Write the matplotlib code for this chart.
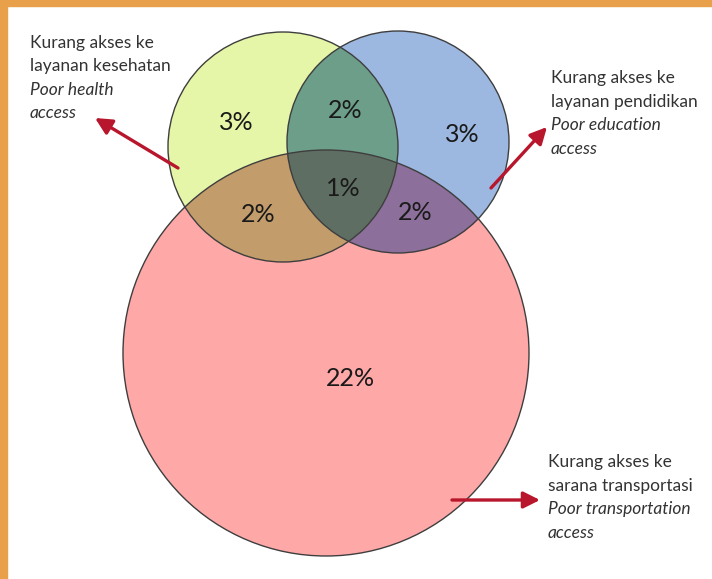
import numpy as np
import matplotlib
matplotlib.use("Agg")
import matplotlib.pyplot as plt
from matplotlib.patches import Circle, Polygon, Rectangle

# ---- data ----
sets = ["health", "education", "transport"]
region_labels = ["3%", "3%", "22%", "2%", "2%", "2%", "1%"]   # H, E, T, H&E, H&T, E&T, H&E&T
label_id = [["Kurang akses ke", "layanan kesehatan"],
            ["Kurang akses ke", "layanan pendidikan"],
            ["Kurang akses ke", "sarana transportasi"]]
label_en = [["Poor health", "access"],
            ["Poor education", "access"],
            ["Poor transportation", "access"]]

W, H = 712, 579
fig = plt.figure(figsize=(W / 100, H / 100), dpi=100)
ax = fig.add_axes([0, 0, 1, 1])
ax.set_xlim(0, W)
ax.set_ylim(H, 0)
ax.set_aspect("equal")
ax.axis("off")

# border
orange = "#e8a04a"
ax.add_patch(Rectangle((0, 0), 7, H, color=orange, zorder=0))
ax.add_patch(Rectangle((0, 0), W, 6, color=orange, zorder=0))

# circle geometry (pixel space)
cH = (283, 147, 115)
cE = (398, 142, 111)
cT = (326, 353, 203)

col = {"H": "#e6f6a8", "E": "#9cb8e0", "T": "#ffa8a8",
       "HE": "#6c9e8a", "HT": "#c39c6c", "ET": "#8c6f9a", "HET": "#5f6e62"}
edge = "#3e3e3e"


def circ(c, fc, z, **kw):
    return Circle((c[0], c[1]), c[2], facecolor=fc, edgecolor="none", zorder=z, **kw)


def poly_pts(c, n=400):
    t = np.linspace(0, 2 * np.pi, n, endpoint=False)
    return np.column_stack([c[0] + c[2] * np.cos(t), c[1] + c[2] * np.sin(t)])


def _inter(p1, p2, a, b):
    x1, y1 = p1; x2, y2 = p2; x3, y3 = a; x4, y4 = b
    d = (x1 - x2) * (y3 - y4) - (y1 - y2) * (x3 - x4)
    t = ((x1 - x3) * (y3 - y4) - (y1 - y3) * (x3 - x4)) / d
    return (x1 + t * (x2 - x1), y1 + t * (y2 - y1))


def clip_convex(subject, clipper):
    def inside(p, a, b, s):
        return s * ((b[0] - a[0]) * (p[1] - a[1]) - (b[1] - a[1]) * (p[0] - a[0])) >= 0
    area = 0.5 * np.sum(clipper[:, 0] * np.roll(clipper[:, 1], -1) - np.roll(clipper[:, 0], -1) * clipper[:, 1])
    s = 1 if area > 0 else -1
    out = list(subject)
    for i in range(len(clipper)):
        a, b = clipper[i], clipper[(i + 1) % len(clipper)]
        inp = out
        out = []
        if not inp:
            break
        prev = inp[-1]
        for cur in inp:
            ci, pi = inside(cur, a, b, s), inside(prev, a, b, s)
            if ci:
                if not pi:
                    out.append(_inter(prev, cur, a, b))
                out.append(cur)
            elif pi:
                out.append(_inter(prev, cur, a, b))
            prev = cur
    return np.array(out)


# base circles
ax.add_patch(circ(cT, col["T"], 1))
ax.add_patch(circ(cH, col["H"], 2))
ax.add_patch(circ(cE, col["E"], 3))

# pair intersections
clipE = circ(cE, "none", 0); ax.add_patch(clipE); clipE.set_visible(False)
clipT = circ(cT, "none", 0); ax.add_patch(clipT); clipT.set_visible(False)
p = circ(cH, col["HE"], 4); ax.add_patch(p); p.set_clip_path(clipE)
p = circ(cH, col["HT"], 4); ax.add_patch(p); p.set_clip_path(clipT)
p = circ(cE, col["ET"], 4); ax.add_patch(p); p.set_clip_path(clipT)
# triple
he = clip_convex(poly_pts(cH), poly_pts(cE))
het = clip_convex(he, poly_pts(cT))
ax.add_patch(Polygon(het, closed=True, facecolor=col["HET"], edgecolor="none", zorder=5))

# outlines
for c in (cT, cH, cE):
    ax.add_patch(Circle((c[0], c[1]), c[2], facecolor="none", edgecolor=edge, lw=1.0, zorder=6))

# region labels
pos = [(236, 123), (462, 134), (350, 378), (345, 111), (258, 214), (415, 213), (343, 189)]
for (x, y), t in zip(pos, region_labels):
    ax.text(x, y, t, ha="center", va="center", fontsize=18, family="Lato",
            color="#1a1a1a", zorder=7)

# side labels (line centers)
lab_pos = [(30, 43), (551, 78), (548, 462)]
fs = 12.5
step = 23.5
for (x, y), a, b in zip(lab_pos, label_id, label_en):
    lines = [(t, "normal") for t in a] + [(t, "italic") for t in b]
    for k, (t, st) in enumerate(lines):
        ax.text(x, y + k * step, t, ha="left", va="center", fontsize=fs, family="Lato",
                style=st, color="#333333", zorder=7)

# arrows
red = "#b8162c"
arrows = [((178, 168), (95, 118)), ((491, 188), (547, 127)), ((452, 500), (540, 500))]
for tail, tip in arrows:
    ax.annotate("", xy=tip, xytext=tail,
                arrowprops=dict(arrowstyle="-|>,head_length=1.0,head_width=0.5",
                                color=red, lw=2.4, shrinkA=0, shrinkB=0), zorder=8)

fig.savefig("out.png", dpi=100)
